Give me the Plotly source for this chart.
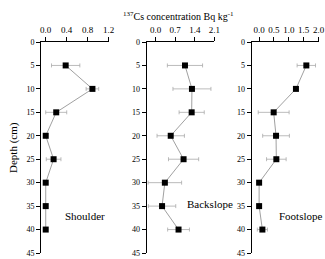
import plotly.graph_objects as go

depth = [5, 10, 15, 20, 25, 30, 35, 40]
shoulder = [0.38, 0.89, 0.20, 0.0, 0.15, 0.0, 0.0, 0.0]
shoulder_err = [0.27, 0.12, 0.20, 0.0, 0.14, 0.0, 0.0, 0.0]
backslope = [1.05, 1.30, 1.29, 0.54, 1.0, 0.33, 0.23, 0.82]
backslope_err = [0.63, 0.68, 0.45, 0.49, 0.54, 0.60, 0.49, 0.39]
footslope = [1.59, 1.24, 0.49, 0.57, 0.58, 0.0, 0.0, 0.11]
footslope_err = [0.31, 0.05, 0.52, 0.45, 0.33, 0.0, 0.0, 0.17]

panels = [
    ("Shoulder", shoulder, shoulder_err, [-0.09, 1.2], [0.0, 0.4, 0.8, 1.2]),
    ("Backslope", backslope, backslope_err, [-0.32, 2.1], [0.0, 0.7, 1.4, 2.1]),
    ("Footslope", footslope, footslope_err, [-0.25, 2.0], [0.0, 0.5, 1.0, 1.5, 2.0]),
]

W, H = 325, 259
def px(X):
    return X / W
def py(Y):
    return 1 - Y / H

domains = [[px(41), px(108.7)], [px(146.7), px(214.3)], [px(251.7), px(318.5)]]
ydom = [py(253), py(42)]
font = "Liberation Serif, Times New Roman, serif"

fig = go.Figure()
for i, (name, vals, errs, xr, tv) in enumerate(panels):
    s = "" if i == 0 else str(i + 1)
    fig.add_trace(go.Scatter(
        x=vals, y=depth, xaxis="x" + s, yaxis="y" + s, mode="lines+markers",
        line=dict(color="#888888", width=0.8),
        marker=dict(symbol="square", size=6, color="black"),
        error_x=dict(type="data", array=errs, color="#aaaaaa", thickness=0.8, width=2),
        showlegend=False, cliponaxis=False,
    ))
    fig.update_layout(**{
        "xaxis" + s: dict(domain=domains[i], range=xr, side="top", tickvals=tv,
                          tickformat=".1f", ticks="outside", ticklen=4, tickwidth=1,
                          tickcolor="black", showline=True, linecolor="black", linewidth=1,
                          showgrid=False, zeroline=False, anchor="y" + s, automargin=False,
                          ticklabeloverflow="allow",
                          tickfont=dict(size=9, family=font, color="black")),
        "yaxis" + s: dict(domain=ydom, range=[45, 0], tickvals=list(range(0, 50, 5)),
                          ticks="outside", ticklen=4, tickwidth=1, tickcolor="black",
                          showline=True, linecolor="black", linewidth=1, showgrid=False,
                          zeroline=False, anchor="x" + s, automargin=False,
                          ticklabeloverflow="allow",
                          tickfont=dict(size=8, family=font, color="black")),
    })

def label(X, Y, text, size=11, angle=0):
    fig.add_annotation(x=px(X), y=py(Y), xref="paper", yref="paper", text=text,
                       xanchor="center", yanchor="middle", textangle=angle,
                       showarrow=False, font=dict(size=size, family=font, color="black"))

label(84.5, 216, "Shoulder")
label(210, 204, "Backslope")
label(301, 216, "Footslope")
label(178, 16, "<sup>137</sup>Cs concentration Bq kg<sup>-1</sup>", size=10)
label(13, 148, "Depth (cm)", angle=-90)

fig.update_layout(width=W, height=H, margin=dict(l=0, r=0, t=0, b=0),
                  paper_bgcolor="white", plot_bgcolor="white")
fig.write_html("out.html", config={"displayModeBar": False},
               post_script="document.body.style.margin='0';document.body.style.overflow='hidden';")
